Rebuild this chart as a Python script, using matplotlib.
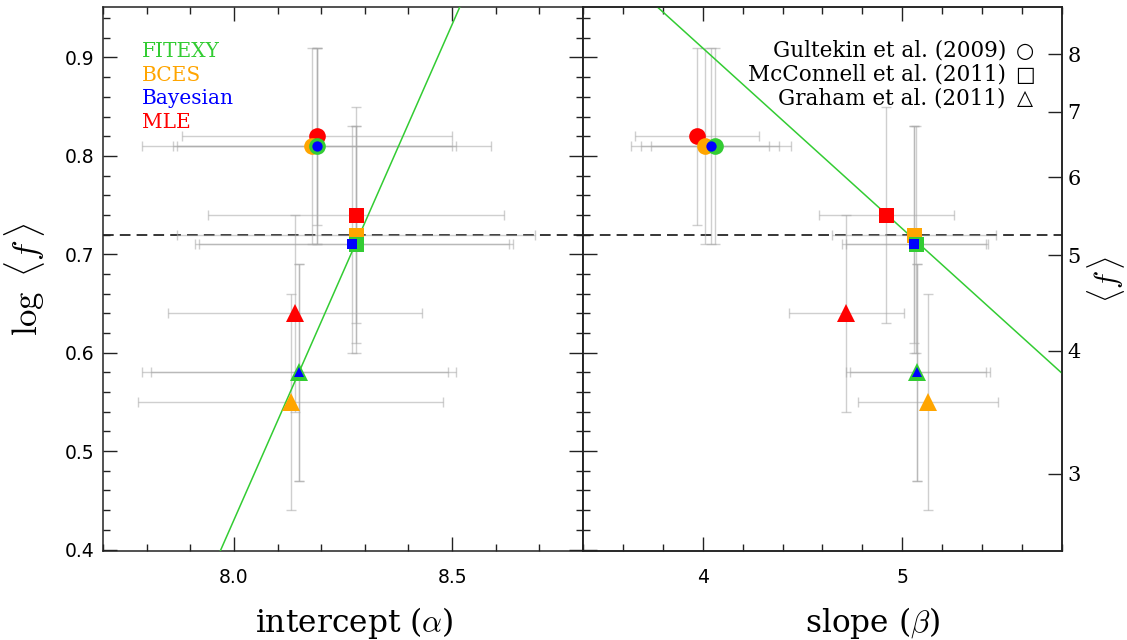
import matplotlib
matplotlib.use('Agg')
import matplotlib.pyplot as plt
from matplotlib.ticker import MultipleLocator, NullLocator, FixedLocator
import numpy as np

plt.rcParams['mathtext.fontset'] = 'cm'

# methods and studies
methods = ['MLE', 'BCES', 'FITEXY', 'Bayesian']
method_colors = {'FITEXY': '#33cc33', 'BCES': '#ffa500', 'Bayesian': '#0000ff', 'MLE': '#ff0000'}
studies = ['Gultekin et al. (2009)', 'McConnell et al. (2011)', 'Graham et al. (2011)']
study_markers = ['o', 's', '^']
study_symbols = ['\u25cb', '\u25a1', '\u25b3']

# log <f> for each study, in the order of `methods`
logf = {
    'Gultekin et al. (2009)':  [0.82, 0.81, 0.81, 0.81],
    'McConnell et al. (2011)': [0.74, 0.72, 0.71, 0.71],
    'Graham et al. (2011)':    [0.64, 0.55, 0.58, 0.58],
}
logf_lo = {
    'Gultekin et al. (2009)':  [0.09, 0.10, 0.10, 0.10],
    'McConnell et al. (2011)': [0.11, 0.11, 0.11, 0.11],
    'Graham et al. (2011)':    [0.10, 0.11, 0.11, 0.11],
}
logf_hi = {
    'Gultekin et al. (2009)':  [0.09, 0.10, 0.10, 0.10],
    'McConnell et al. (2011)': [0.11, 0.11, 0.12, 0.12],
    'Graham et al. (2011)':    [0.10, 0.11, 0.11, 0.11],
}

# intercept alpha
alpha = {
    'Gultekin et al. (2009)':  [8.19, 8.18, 8.19, 8.19],
    'McConnell et al. (2011)': [8.28, 8.28, 8.28, 8.27],
    'Graham et al. (2011)':    [8.14, 8.13, 8.15, 8.15],
}
alpha_lo = {
    'Gultekin et al. (2009)':  [0.31, 0.32, 0.40, 0.32],
    'McConnell et al. (2011)': [0.34, 0.41, 0.37, 0.35],
    'Graham et al. (2011)':    [0.29, 0.35, 0.36, 0.34],
}
alpha_hi = {
    'Gultekin et al. (2009)':  [0.31, 0.32, 0.40, 0.32],
    'McConnell et al. (2011)': [0.34, 0.41, 0.36, 0.36],
    'Graham et al. (2011)':    [0.29, 0.35, 0.36, 0.34],
}

# slope beta
beta = {
    'Gultekin et al. (2009)':  [3.97, 4.01, 4.06, 4.04],
    'McConnell et al. (2011)': [4.92, 5.06, 5.07, 5.06],
    'Graham et al. (2011)':    [4.72, 5.13, 5.075, 5.075],
}
beta_lo = {
    'Gultekin et al. (2009)':  [0.31, 0.37, 0.37, 0.30],
    'McConnell et al. (2011)': [0.34, 0.41, 0.37, 0.34],
    'Graham et al. (2011)':    [0.29, 0.35, 0.355, 0.335],
}
beta_hi = {
    'Gultekin et al. (2009)':  [0.31, 0.32, 0.38, 0.34],
    'McConnell et al. (2011)': [0.34, 0.41, 0.36, 0.36],
    'Graham et al. (2011)':    [0.29, 0.35, 0.365, 0.345],
}

# FITEXY relations: log<f> = c0 + c1 * (x - x0)
fit_alpha = (8.0, 0.430, 1.007)
fit_beta = (5.0, 0.726, -0.1836)

logf_ref = 0.72
ylim = (0.3985, 0.951)
f_ticks = [3, 4, 5, 6, 7, 8]

fig = plt.figure(figsize=(11.27, 6.4), dpi=100)
axL = fig.add_axes([0.09139, 0.13906, 0.42591, 0.84953])
axR = fig.add_axes([0.51730, 0.13906, 0.42502, 0.84953])

ecol = (0.66, 0.66, 0.66, 0.55)


def draw_panel(ax, xd, xlo, xhi, fit, xlim):
    ax.axhline(logf_ref, color='black', lw=1.1, ls=(0, (7, 4)), zorder=1)
    for st in studies:
        ax.errorbar(xd[st], logf[st], xerr=[xlo[st], xhi[st]],
                    yerr=[logf_lo[st], logf_hi[st]], fmt='none',
                    ecolor=ecol, elinewidth=1.0, capsize=3.8, capthick=1.0, zorder=2)
    xx = np.linspace(xlim[0], xlim[1], 200)
    x0, c0, c1 = fit
    ax.plot(xx, c0 + c1 * (xx - x0), color=method_colors['FITEXY'], lw=1.1, zorder=3)
    for st, mk in zip(studies, study_markers):
        for i, m in enumerate(methods):
            base = {'o': 12.0, 's': 10.8, '^': 12.5}[mk]
            ms = base * 0.62 if m == 'Bayesian' else base
            ax.plot(xd[st][i], logf[st][i], marker=mk, ms=ms, mew=0,
                    color=method_colors[m], ls='none', zorder=4)
    ax.set_xlim(*xlim)
    ax.set_ylim(*ylim)
    ax.yaxis.set_major_locator(MultipleLocator(0.1))
    ax.yaxis.set_minor_locator(MultipleLocator(0.02))
    for sp in ax.spines.values():
        sp.set_linewidth(1.1)
        sp.set_color('#222222')


draw_panel(axL, alpha, alpha_lo, alpha_hi, fit_alpha, (7.7, 8.8))
draw_panel(axR, beta, beta_lo, beta_hi, fit_beta, (3.4, 5.8))

axL.xaxis.set_major_locator(MultipleLocator(0.5))
axL.xaxis.set_minor_locator(MultipleLocator(0.1))
axR.xaxis.set_major_locator(MultipleLocator(1))
axR.xaxis.set_minor_locator(MultipleLocator(0.2))
axR.xaxis.set_major_formatter(plt.FuncFormatter(lambda v, p: '%d' % v))

for ax, right in ((axL, True), (axR, False)):
    ax.tick_params(axis='both', which='both', direction='in', top=True,
                   right=right, color='#222222', width=1.0)
    ax.tick_params(which='major', length=10)
    ax.tick_params(which='minor', length=5)
    ax.tick_params(axis='x', pad=12, labelsize=13.5)
    ax.tick_params(axis='y', pad=6, labelsize=13.5)
axR.tick_params(axis='y', labelleft=False)

# right-hand <f> axis
axF = axR.twinx()
axF.set_yscale('log')
axF.set_ylim(10 ** ylim[0], 10 ** ylim[1])
axF.yaxis.set_major_locator(FixedLocator(f_ticks))
axF.yaxis.set_minor_locator(NullLocator())
axF.set_yticklabels([str(t) for t in f_ticks], family='DejaVu Serif')
axF.tick_params(axis='y', direction='in', length=10, width=1.0, color='#222222',
                pad=4, labelsize=15)
for sp in axF.spines.values():
    sp.set_linewidth(1.1)
    sp.set_color('#222222')

# axis labels
axL.set_xlabel(r'intercept ($\alpha$)', family='DejaVu Serif', fontsize=22.5)
axR.set_xlabel(r'slope ($\beta$)', family='DejaVu Serif', fontsize=22.5)
axL.xaxis.set_label_coords(0.523, -0.1)
axR.xaxis.set_label_coords(0.605, -0.1)
axL.set_ylabel(r'$\log\ \langle f\,\rangle$', fontsize=25)
axL.yaxis.set_label_coords(-0.117, 0.5)
axF.set_ylabel(r'$\langle f\,\rangle$', fontsize=22)
axF.yaxis.set_label_coords(1.048, 0.5)

# method labels
for k, m in enumerate(['FITEXY', 'BCES', 'Bayesian', 'MLE']):
    axL.text(0.081, 0.909 - k * 0.0437, m, color=method_colors[m], transform=axL.transAxes,
             family='DejaVu Serif', fontsize=14.5, va='baseline', ha='left')

# study labels
for k, (st, sym) in enumerate(zip(studies, study_symbols)):
    y = 0.909 - k * 0.0437
    axR.text(0.883, y, st, transform=axR.transAxes, family='DejaVu Serif',
             fontsize=15.5, va='baseline', ha='right')
    axR.text(0.922, y, sym, transform=axR.transAxes, family='DejaVu Sans',
             fontsize=15, va='baseline', ha='center')

fig.savefig('out.png', dpi=100)
